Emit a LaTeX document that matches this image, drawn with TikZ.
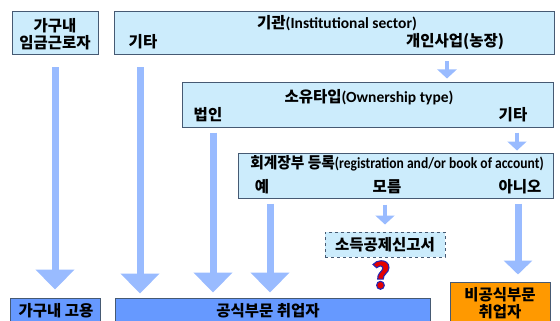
\documentclass[tikz,border=0pt]{standalone}
\usepackage{fontspec}
\setmainfont{Noto Sans CJK KR}
\newfontfamily\latfont{Carlito}
\usetikzlibrary{arrows.meta}

\definecolor{boxfill}{RGB}{204,236,252}
\definecolor{boxline}{RGB}{70,90,115}
\definecolor{arrowblue}{RGB}{153,187,255}
\definecolor{formalblue}{RGB}{102,153,255}
\definecolor{informalorange}{RGB}{255,153,0}

\newcommand{\lat}[1]{{\latfont #1}}
% red glyph, filled and stroked in dark blue
\newcommand{\outlined}[1]{\textcolor{red!90!black}{\special{pdf:literal direct 0.15 0.15 0.7 RG 1.1 w 2 Tr}#1\special{pdf:literal direct 0 Tr}}}

\begin{document}
\begin{tikzpicture}[x=1pt,y=-1pt,
  box/.style={rectangle, draw=boxline, fill=boxfill, line width=1pt, inner sep=0pt},
  lbl/.style={inner sep=0pt, font=\bfseries\fontsize{15.5}{17}\selectfont, align=center},
  bigarrow/.style={draw=arrowblue, line width=7pt, -{Triangle[width=38pt,length=20pt]}},
  midarrow/.style={draw=arrowblue, line width=7pt, -{Triangle[width=28pt,length=14pt]}},
  smallarrow/.style={draw=arrowblue, line width=4pt, -{Triangle[width=19pt,length=9pt]}}]
\clip (0,0) rectangle (560,321);

% top row
\node[box, minimum width=86pt, minimum height=43pt] (hhwage) at (55,33.5) {};
\node[lbl] (hhwageT) at (55,34) {가구내\\임금근로자};
\node[box, minimum width=440pt, minimum height=43pt] (inst) at (334,33.5) {};
\node[lbl] (instT) at (337,23) {기관\lat{(Institutional sector)}};
\node[lbl] (instEtc) at (143,42) {기타};
\node[lbl] (instBiz) at (455,42) {개인사업(농장)};

% ownership type
\node[box, minimum width=371pt, minimum height=44pt] (own) at (367.5,105) {};
\node[lbl] (ownT) at (369,97) {소유타입\lat{(Ownership type)}};
\node[lbl] (ownCorp) at (208,115) {법인};
\node[lbl] (ownEtc) at (513,115) {기타};

% book of account
\node[box, minimum width=315pt, minimum height=45pt] (reg) at (395.5,175.5) {};
\node[lbl] (regT) at (397,163) {\scalebox{0.95}[1]{회계장부 등록}\scalebox{0.875}[1]{\lat{(registration and/or book of account)}}};
\node[lbl] (regYes) at (262,187) {예};
\node[lbl] (regDk) at (387,187) {모름};
\node[lbl] (regNo) at (520,187) {아니오};

\node[box, dashed, minimum width=120pt, minimum height=25pt] (taxrep) at (385,244.5) {};
\node[lbl] (taxrepT) at (385,245) {소득공제신고서};
\node[inner sep=0pt, font=\bfseries\fontsize{36}{36}\selectfont] (qmark) at (381,275) {\outlined{?}};

% bottom row
\node[box, fill=formalblue, minimum width=90pt, minimum height=26pt] (hhemp) at (55,311) {};
\node[lbl] (hhempT) at (56,311) {가구내 고용};
\node[box, fill=formalblue, minimum width=315pt, minimum height=26pt] (formal) at (272.5,311) {};
\node[lbl] (formalT) at (268,311) {공식부문 취업자};
\node[box, fill=informalorange, minimum width=100pt, minimum height=42pt] (informal) at (500,303) {};
\node[lbl] (informalT) at (500,303) {비공식부문\\취업자};

% arrows
\draw[bigarrow, shorten <=12pt, shorten >=8pt] (hhwage.south) -- (hhemp.north);
\draw[bigarrow, shorten <=12pt, shorten >=4pt] ([xshift=-3pt]instEtc |- inst.south) -- ([xshift=-3pt]instEtc |- formal.north);
\draw[bigarrow, shorten <=5pt, shorten >=5pt] ([xshift=5pt]ownCorp |- own.south) -- ([xshift=5pt]ownCorp |- formal.north);
\draw[bigarrow, shorten <=5pt, shorten >=5pt] ([xshift=8pt]regYes |- reg.south) -- ([xshift=8pt]regYes |- formal.north);
\draw[smallarrow, shorten <=6pt, shorten >=7pt] ([xshift=-2pt]regDk |- reg.south) -- ([xshift=-2pt]regDk |- taxrep.north);
\draw[midarrow, shorten <=5pt, shorten >=7pt] ([xshift=-2pt]regNo |- reg.south) -- ([xshift=-2pt]regNo |- informal.north);
\draw[smallarrow, shorten <=6pt, shorten >=4pt] ([xshift=-8pt]instBiz |- inst.south) -- ([xshift=-8pt]instBiz |- own.north);
\draw[smallarrow, shorten <=5pt, shorten >=2pt] ([xshift=4pt]ownEtc |- own.south) -- ([xshift=4pt]ownEtc |- reg.north);
\end{tikzpicture}
\end{document}
